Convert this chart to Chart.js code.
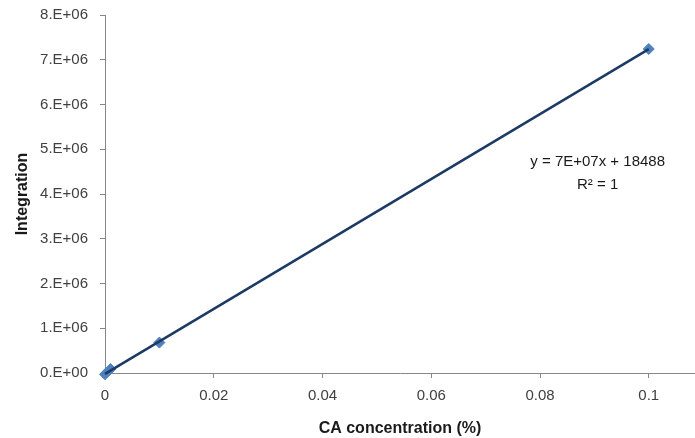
<!DOCTYPE html>
<html>
<head>
<meta charset="utf-8">
<script src="https://cdn.jsdelivr.net/npm/chart.js@4/dist/chart.umd.min.js"></script>
<style>
html,body{margin:0;padding:0;background:#fff;}
#wrap{width:695px;height:438px;position:relative;}
</style>
</head>
<body>
<div id="wrap"><canvas id="c" width="695" height="438"></canvas></div>
<script>
// Data
const concentrations = [0, 0.001, 0.01, 0.1];
const integrations = [-30000, 90000, 680000, 7240000];
const trendX = [0, 0.1];
const equationLines = ["y = 7E+07x + 18488", "R\u00b2 = 1"];
const xTickValues = [0, 0.02, 0.04, 0.06, 0.08, 0.1];
const yTickValues = [0, 1e6, 2e6, 3e6, 4e6, 5e6, 6e6, 7e6, 8e6];

// least-squares linear trendline through the points
const n = concentrations.length;
const mx = concentrations.reduce((a,b)=>a+b,0)/n;
const my = integrations.reduce((a,b)=>a+b,0)/n;
let sxy=0, sxx=0;
for (let i=0;i<n;i++){ sxy+=(concentrations[i]-mx)*(integrations[i]-my); sxx+=(concentrations[i]-mx)**2; }
const slope = sxy/sxx, intercept = my - slope*mx;
const trendPts = trendX.map(x=>({x:x, y:slope*x+intercept}));
const pts = concentrations.map((x,i)=>({x:x, y:integrations[i]}));

const FONT = "'Liberation Sans', Arial, sans-serif";
const TXT = '#404040';
const AXIS = '#878787';

const eqPlugin = {
  id:'eq',
  afterDatasetsDraw(chart){
    const ctx = chart.ctx, a = chart.chartArea;
    ctx.save();
    ctx.fillStyle = '#1a1a1a';
    ctx.font = "15px " + FONT;
    ctx.textAlign = 'center';
    ctx.textBaseline = 'middle';
    const cx = a.left + (a.right-a.left)*0.835;
    const cy = a.top + (a.bottom-a.top)*0.41;
    ctx.fillText(equationLines[0], cx, cy);
    ctx.fillText(equationLines[1], cx, cy+23);
    ctx.restore();
  }
};

// stretch the plot area to the right edge of the canvas, like the reference
const stretchPlugin = {
  id:'stretch',
  afterLayout(chart){
    const xs = chart.scales.x;
    const right = chart.width;
    xs.right = right;
    xs.width = right - xs.left;
    chart.chartArea.right = right;
    chart.chartArea.width = right - chart.chartArea.left;
    xs.configure();
  }
};

new Chart(document.getElementById('c'), {
  type:'scatter',
  data:{
    datasets:[
      { label:'trend', type:'line', data:trendPts, borderColor:'#1c3a63', borderWidth:2.5,
        pointRadius:0, fill:false, order:0, clip:false },
      { label:'data', data:pts, pointStyle:'rectRot', pointRadius:5.5,
        backgroundColor:'#4f81bd', borderColor:'#4f81bd', borderWidth:1, order:1, clip:false }
    ]
  },
  plugins:[eqPlugin, stretchPlugin],
  options:{
    responsive:false, animation:false,
    layout:{padding:{top:15,right:0,left:13,bottom:0}},
    plugins:{legend:{display:false}, tooltip:{enabled:false}},
    scales:{
      x:{
        type:'linear', min:0, max:0.1085,
        afterBuildTicks(s){ s.ticks = xTickValues.map(v=>({value:v})); },
        afterFit(s){ s.height = 65; s.paddingLeft = 0; s.paddingRight = 0; },
        grid:{drawOnChartArea:false, drawTicks:true, tickLength:5, color:AXIS},
        border:{display:true, color:AXIS, width:1},
        ticks:{padding:9, color:TXT, font:{family:FONT,size:15}, maxRotation:0,
          callback:(v)=>String(+v.toFixed(2))},
        title:{display:true, text:'CA concentration (%)', color:'#1a1a1a',
          font:{family:FONT,size:16,weight:'bold'}, padding:{top:6,bottom:0}}
      },
      y:{
        type:'linear', min:0, max:8e6,
        afterBuildTicks(s){ s.ticks = yTickValues.map(v=>({value:v})); },
        afterFit(s){ s.width = 92; s.paddingTop = 0; s.paddingBottom = 0; },
        grid:{drawOnChartArea:false, drawTicks:true, tickLength:5, color:AXIS},
        border:{display:true, color:AXIS, width:1},
        ticks:{padding:12, color:TXT, font:{family:FONT,size:15},
          callback:(v)=>(v/1e6).toFixed(0)+(v===0?'.E+00':'.E+06')},
        title:{display:true, text:'Integration', color:'#1a1a1a',
          font:{family:FONT,size:16,weight:'bold'}, padding:{top:0,bottom:4}}
      }
    }
  }
});
</script>
</body>
</html>
